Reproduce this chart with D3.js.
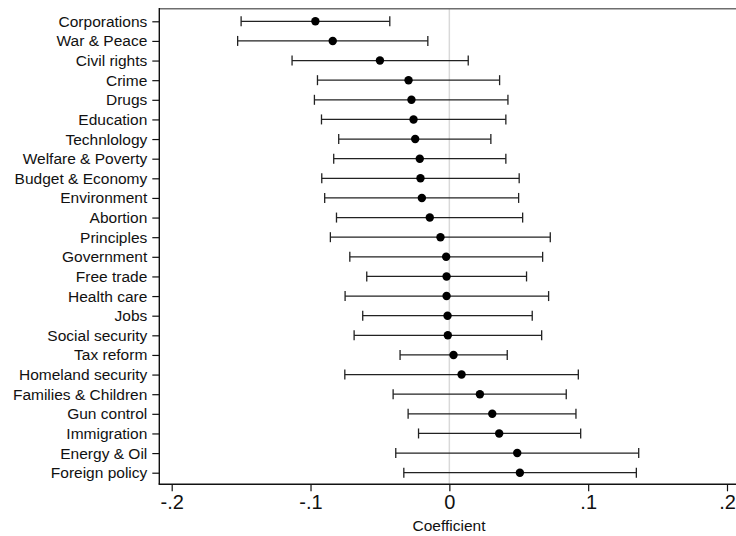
<!DOCTYPE html>
<html>
<head>
<meta charset="utf-8">
<script src="https://cdn.jsdelivr.net/npm/d3@7"></script>
<style>
  body { margin: 0; background: #fff; }
  svg { display: block; font-family: "Liberation Sans", Arial, sans-serif; }
</style>
</head>
<body>
<svg width="736" height="536"></svg>
<script>
// topics, top to bottom
const topics = ["Corporations", "War & Peace", "Civil rights", "Crime", "Drugs", "Education",
  "Technlology", "Welfare & Poverty", "Budget & Economy", "Environment", "Abortion", "Principles",
  "Government", "Free trade", "Health care", "Jobs", "Social security", "Tax reform",
  "Homeland security", "Families & Children", "Gun control", "Immigration", "Energy & Oil",
  "Foreign policy"];

const coef = [-0.0965, -0.084, -0.050, -0.0294, -0.0273, -0.0258, -0.0246, -0.0213, -0.0208,
  -0.0198, -0.0141, -0.0064, -0.0023, -0.002, -0.002, -0.0013, -0.0011, 0.003, 0.0088, 0.022,
  0.0309, 0.0359, 0.0489, 0.0508];

const lower = [-0.150, -0.1525, -0.1133, -0.095, -0.0972, -0.0921, -0.0797, -0.0833, -0.0919,
  -0.0898, -0.0813, -0.0857, -0.0717, -0.0595, -0.0751, -0.0624, -0.0686, -0.0355, -0.0753,
  -0.0405, -0.0297, -0.0222, -0.0386, -0.0328];

const upper = [-0.0429, -0.0155, 0.0136, 0.0362, 0.0422, 0.0407, 0.0299, 0.0407, 0.0503, 0.0499,
  0.0528, 0.0727, 0.0672, 0.0556, 0.0715, 0.0597, 0.0665, 0.0417, 0.0929, 0.0842, 0.0912, 0.0946,
  0.1364, 0.1347];

const xTicks = [-0.2, -0.1, 0, 0.1, 0.2];
const xTickLabels = ["-.2", "-.1", "0", ".1", ".2"];

const svg = d3.select('svg');
const plot = { left: 159.3, right: 736, top: 8.7, bottom: 484.3 };

const x = d3.scaleLinear().domain([-0.2, 0.2]).range([171.7, 727]);
const y = d3.scalePoint().domain(topics).range([21.3, 472.7]);

const rows = topics.map((t, i) => ({ topic: t, b: coef[i], lo: lower[i], hi: upper[i] }));

// zero reference line
svg.append('line')
    .attr('x1', x(0)).attr('x2', x(0))
    .attr('y1', plot.top).attr('y2', plot.bottom)
    .attr('stroke', '#d9d9d9').attr('stroke-width', 1.5);

// top frame line
svg.append('line')
    .attr('x1', plot.left).attr('x2', plot.right)
    .attr('y1', plot.top).attr('y2', plot.top)
    .attr('stroke', '#6e6e6e').attr('stroke-width', 1.5);

// y axis
const yAxis = svg.append('g')
    .attr('transform', `translate(${plot.left},0)`)
    .call(d3.axisLeft(y).tickSize(7).tickPadding(5));
yAxis.select('.domain').remove();
yAxis.selectAll('text').attr('font-size', 15.5).attr('fill', '#111')
    .attr('font-family', '"Liberation Sans", Arial, sans-serif');
yAxis.selectAll('.tick line').attr('stroke', '#111').attr('stroke-width', 1.2);
svg.append('line')
    .attr('x1', plot.left).attr('x2', plot.left)
    .attr('y1', plot.top - 0.7).attr('y2', plot.bottom)
    .attr('stroke', '#111').attr('stroke-width', 1.4);

// x axis
const xAxis = svg.append('g')
    .attr('transform', `translate(0,${plot.bottom})`)
    .call(d3.axisBottom(x).tickValues(xTicks).tickFormat((d, i) => xTickLabels[i])
        .tickSize(7).tickPadding(4));
xAxis.select('.domain').remove();
xAxis.selectAll('text').attr('font-size', 20).attr('fill', '#111')
    .attr('font-family', '"Liberation Sans", Arial, sans-serif');
xAxis.selectAll('.tick line').attr('stroke', '#111').attr('stroke-width', 1.2);
svg.append('line')
    .attr('x1', plot.left - 0.7).attr('x2', plot.right)
    .attr('y1', plot.bottom).attr('y2', plot.bottom)
    .attr('stroke', '#111').attr('stroke-width', 1.4);

svg.append('text')
    .attr('x', 449).attr('y', 530.5)
    .attr('text-anchor', 'middle')
    .attr('font-size', 15.5).attr('fill', '#111')
    .text('Coefficient');

// confidence intervals
const bars = svg.append('g').selectAll('g').data(rows).enter().append('g');
bars.append('line')
    .attr('x1', d => x(d.lo)).attr('x2', d => x(d.hi))
    .attr('y1', d => y(d.topic)).attr('y2', d => y(d.topic))
    .attr('stroke', '#222').attr('stroke-width', 1.3);
bars.append('line')
    .attr('x1', d => x(d.lo)).attr('x2', d => x(d.lo))
    .attr('y1', d => y(d.topic) - 5).attr('y2', d => y(d.topic) + 5)
    .attr('stroke', '#222').attr('stroke-width', 1.3);
bars.append('line')
    .attr('x1', d => x(d.hi)).attr('x2', d => x(d.hi))
    .attr('y1', d => y(d.topic) - 5).attr('y2', d => y(d.topic) + 5)
    .attr('stroke', '#222').attr('stroke-width', 1.3);

// point estimates
bars.append('circle')
    .attr('cx', d => x(d.b)).attr('cy', d => y(d.topic))
    .attr('r', 4.2).attr('fill', '#000');
</script>
</body>
</html>
